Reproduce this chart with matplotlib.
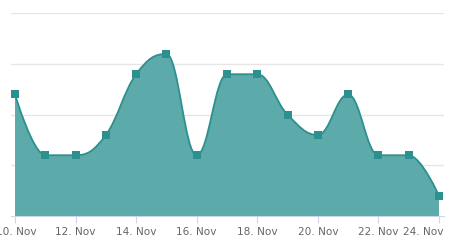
import matplotlib
matplotlib.use('Agg')
import matplotlib.pyplot as plt
import matplotlib.transforms as mtransforms
from matplotlib.path import Path
from matplotlib.patches import PathPatch

days = [10, 11, 12, 13, 14, 15, 16, 17, 18, 19, 20, 21, 22, 23, 24]
values = [12, 6, 6, 8, 14, 16, 6, 14, 14, 10, 8, 12, 6, 6, 2]
tick_days = [10, 12, 14, 16, 18, 20, 22, 24]
tick_labels = ['10. Nov', '12. Nov', '14. Nov', '16. Nov', '18. Nov', '20. Nov', '22. Nov', '24. Nov']
grid_values = [0, 5, 10, 15, 20]

line_color = '#2b908f'
fill_color = '#5daaaa'


def spline_path(xs, ys, smoothing=1.5):
    # highcharts-like spline control points
    n = len(xs)
    denom = smoothing + 1
    conts = []
    for i in range(n):
        x, y = xs[i], ys[i]
        if 0 < i < n - 1:
            lx, ly = xs[i - 1], ys[i - 1]
            nx, ny = xs[i + 1], ys[i + 1]
            lcx = (smoothing * x + lx) / denom
            lcy = (smoothing * y + ly) / denom
            rcx = (smoothing * x + nx) / denom
            rcy = (smoothing * y + ny) / denom
            corr = ((rcy - lcy) * (rcx - x)) / (rcx - lcx) + y - rcy
            lcy += corr
            rcy += corr
            if lcy > ly and lcy > y:
                lcy = max(ly, y)
                rcy = 2 * y - lcy
            elif lcy < ly and lcy < y:
                lcy = min(ly, y)
                rcy = 2 * y - lcy
            if rcy > ny and rcy > y:
                rcy = max(ny, y)
                lcy = 2 * y - rcy
            elif rcy < ny and rcy < y:
                rcy = min(ny, y)
                lcy = 2 * y - rcy
            conts.append(((lcx, lcy), (rcx, rcy)))
        else:
            conts.append(((x, y), (x, y)))
    verts = [(xs[0], ys[0])]
    codes = [Path.MOVETO]
    for i in range(1, n):
        verts += [conts[i - 1][1], conts[i][0], (xs[i], ys[i])]
        codes += [Path.CURVE4] * 3
    return verts, codes


fig = plt.figure(figsize=(4.58, 2.5), dpi=100)
ax = fig.add_axes([11 / 458, 34 / 250, 433 / 458, 202.5 / 250])
ax.set_xlim(days[0] - 4 / 30.3, days[-1] + 5 / 30.3)
ax.set_ylim(0, 20)

verts, codes = spline_path(days, values)
fill_verts = verts + [(days[-1], 0), (days[0], 0), (days[0], values[0])]
fill_codes = codes + [Path.LINETO, Path.LINETO, Path.CLOSEPOLY]
ax.add_patch(PathPatch(Path(fill_verts, fill_codes), facecolor=fill_color, edgecolor='none', zorder=2))
ax.add_patch(PathPatch(Path(verts, codes), facecolor='none', edgecolor=line_color, linewidth=1.3, zorder=3))
ax.scatter(days, values, marker='s', s=26, color=line_color, zorder=4, linewidths=0)

for g in grid_values[1:]:
    ax.axhline(g, color='#e6e6e6', linewidth=1, zorder=1)

for s in ['top', 'right', 'left']:
    ax.spines[s].set_visible(False)
ax.spines['bottom'].set_color('#ccd6eb')
ax.spines['bottom'].set_zorder(5)
ax.set_yticks([])
ax.set_xticks(tick_days)
ax.set_xticklabels(tick_labels)
ax.tick_params(axis='x', length=5, color='#ccd6eb', labelsize=7.6, labelcolor='#666666', pad=3)
labels = ax.get_xticklabels()
labels[0].set_transform(labels[0].get_transform() + mtransforms.ScaledTranslation(1 / 100, 0, fig.dpi_scale_trans))
labels[-1].set_horizontalalignment('right')
labels[-1].set_transform(labels[-1].get_transform() + mtransforms.ScaledTranslation(4 / 100, 0, fig.dpi_scale_trans))

fig.savefig('out.png', dpi=100)
